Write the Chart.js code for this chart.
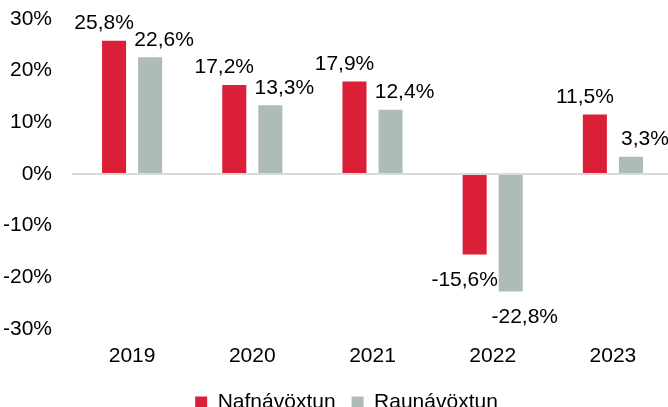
<!DOCTYPE html>
<html>
<head>
<meta charset="utf-8">
<script src="https://cdn.jsdelivr.net/npm/chart.js@4/dist/chart.umd.min.js"></script>
<style>
  html, body { margin: 0; padding: 0; background: #fff; overflow: hidden; }
  #wrap { width: 674px; height: 423px; position: relative; }
</style>
</head>
<body>
<div id="wrap"><canvas id="returnsCanvas"></canvas></div>
<script>
var years = ['2019', '2020', '2021', '2022', '2023'];
var nominal = [25.8, 17.2, 17.9, -15.6, 11.5];
var real = [22.6, 13.3, 12.4, -22.8, 3.3];
var yTicks = [-30, -20, -10, 0, 10, 20, 30];

var RED = '#DA1F37';
var GREY = '#AEBCB7';
var FONT = "'Liberation Sans', Arial, sans-serif";
var FS = 21;

function fmt(v) {
    return v.toFixed(1).replace('.', ',') + '%';
}

// value labels above / below each bar
var barLabels = {
    id: 'barLabels',
    afterLayout: function(chart) {
        // legend sits a little right of centre in the original
        chart.legend.left += 10;
        chart.legend.right += 10;
    },
    afterDatasetsDraw: function(chart) {
        var ctx = chart.ctx;
        ctx.save();
        ctx.font = FS + 'px ' + FONT;
        ctx.fillStyle = '#000';
        ctx.textAlign = 'center';
        chart.data.datasets.forEach(function(ds, i) {
            var meta = chart.getDatasetMeta(i);
            var shift = i === 0 ? -10 : 14;
            meta.data.forEach(function(bar, j) {
                var v = ds.data[j];
                if (v >= 0) {
                    ctx.textBaseline = 'bottom';
                    ctx.fillText(fmt(v), bar.x + shift, bar.y - 7);
                } else {
                    ctx.textBaseline = 'top';
                    ctx.fillText(fmt(v), bar.x + shift, bar.y + 15);
                }
            });
        });
        ctx.restore();
    }
};

var ctx = document.getElementById('returnsCanvas');
var chart = new Chart(ctx, {
    type: 'bar',
    data: {
        labels: years,
        datasets: [
            { label: 'Nafnávöxtun', data: nominal, backgroundColor: RED },
            { label: 'Raunávöxtun', data: real, backgroundColor: GREY }
        ]
    },
    options: {
        responsive: true,
        maintainAspectRatio: false,
        animation: false,
        datasets: {
            bar: { categoryPercentage: 0.6, barPercentage: 0.667 }
        },
        layout: { padding: { top: 19, left: 0, right: 1, bottom: 0 } },
        plugins: {
            tooltip: { enabled: false },
            legend: {
                position: 'bottom',
                labels: {
                    boxWidth: 12,
                    boxHeight: 12,
                    padding: 16,
                    color: '#000',
                    font: { family: FONT, size: FS }
                }
            }
        },
        scales: {
            x: {
                grid: { display: false },
                border: { display: false },
                ticks: { color: '#000', font: { family: FONT, size: FS }, padding: 7 }
            },
            y: {
                min: yTicks[0],
                max: yTicks[yTicks.length - 1],
                afterBuildTicks: function(axis) {
                    axis.ticks = yTicks.map(function(v) { return { value: v }; });
                },
                afterFit: function(axis) {
                    axis.width = 72;
                    axis.paddingTop = 0;
                    axis.paddingBottom = 0;
                },
                border: { display: false },
                grid: {
                    drawTicks: false,
                    color: function(c) { return c.tick && c.tick.value === 0 ? '#D9D9D9' : 'rgba(0,0,0,0)'; },
                    lineWidth: 2
                },
                ticks: {
                    color: '#000',
                    padding: 20,
                    font: { family: FONT, size: FS },
                    callback: function(v) { return v + '%'; }
                }
            }
        }
    },
    plugins: [barLabels]
});
</script>
</body>
</html>
